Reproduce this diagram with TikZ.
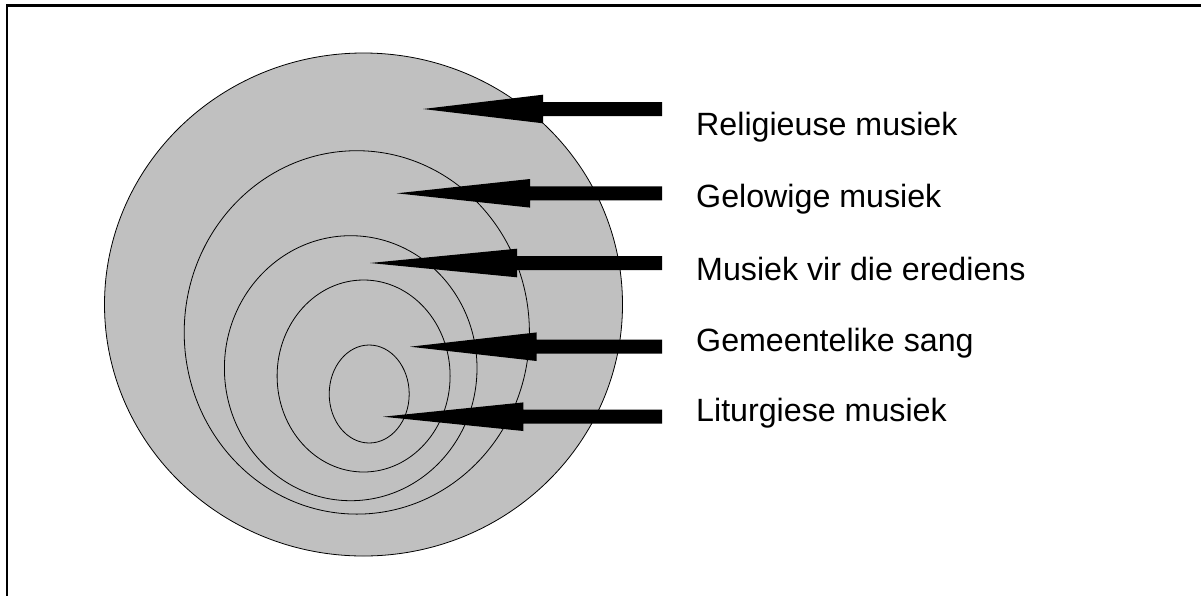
\documentclass[tikz,border=0pt]{standalone}
\usepackage{fontspec}
\setmainfont{Liberation Sans}
\definecolor{ringgray}{HTML}{C0C0C0}
\newcommand{\fatarrow}[4]{%
  % #1 name, #2 tip x, #3 y, #4 head base x
  \coordinate (#1tip) at (#2,#3);
  \coordinate (#1tail) at (662,#3);
  \fill[arrowbody] (#1tip) -- (#4,#3-14.3) -- (#4,#3-7) -- ([yshift=7pt]#1tail)
     -- ([yshift=-7pt]#1tail) -- (#4,#3+7) -- (#4,#3+14.3) -- cycle;
}
\begin{document}
\begin{tikzpicture}[x=1pt,y=-1pt,
  ring/.style={draw=black,line width=0.8pt},
  arrowbody/.style={fill=black},
  lbl/.style={anchor=base west,inner sep=0pt,font=\fontsize{32.2}{36}\selectfont},
  frameline/.style={line width=2.6pt,line cap=rect}]
\useasboundingbox (0,0) rectangle (1201,595);
% frame
\draw[frameline] (7,595) -- (7,5.6) -- (1201,5.6);
% rings
\draw[ring,fill=ringgray] (363.5,304.5) ellipse [x radius=259,y radius=251.5];
\draw[ring] (356.8,332.4) ellipse [x radius=172.6,y radius=181.7];
\draw[ring] (350.7,368.2) ellipse [x radius=126.3,y radius=132.5];
\draw[ring] (363.6,376) ellipse [x radius=86.5,y radius=96];
\draw[ring] (369.2,394) ellipse [x radius=40,y radius=49];
% arrows
\fatarrow{a1}{423}{109}{543}
\fatarrow{a2}{396.7}{193.3}{530}
\fatarrow{a3}{370}{263}{517}
\fatarrow{a4}{410}{346.7}{536.7}
\fatarrow{a5}{383}{416.7}{523.3}
% labels
\node[lbl] (l1) at (696,135) {Religieuse musiek};
\node[lbl] (l2) at (696,207.3) {Gelowige musiek};
\node[lbl] (l3) at (696,280) {Musiek vir die erediens};
\node[lbl] (l4) at (696,351) {Gemeentelike sang};
\node[lbl] (l5) at (696,421.7) {Liturgiese musiek};
\end{tikzpicture}
\end{document}
